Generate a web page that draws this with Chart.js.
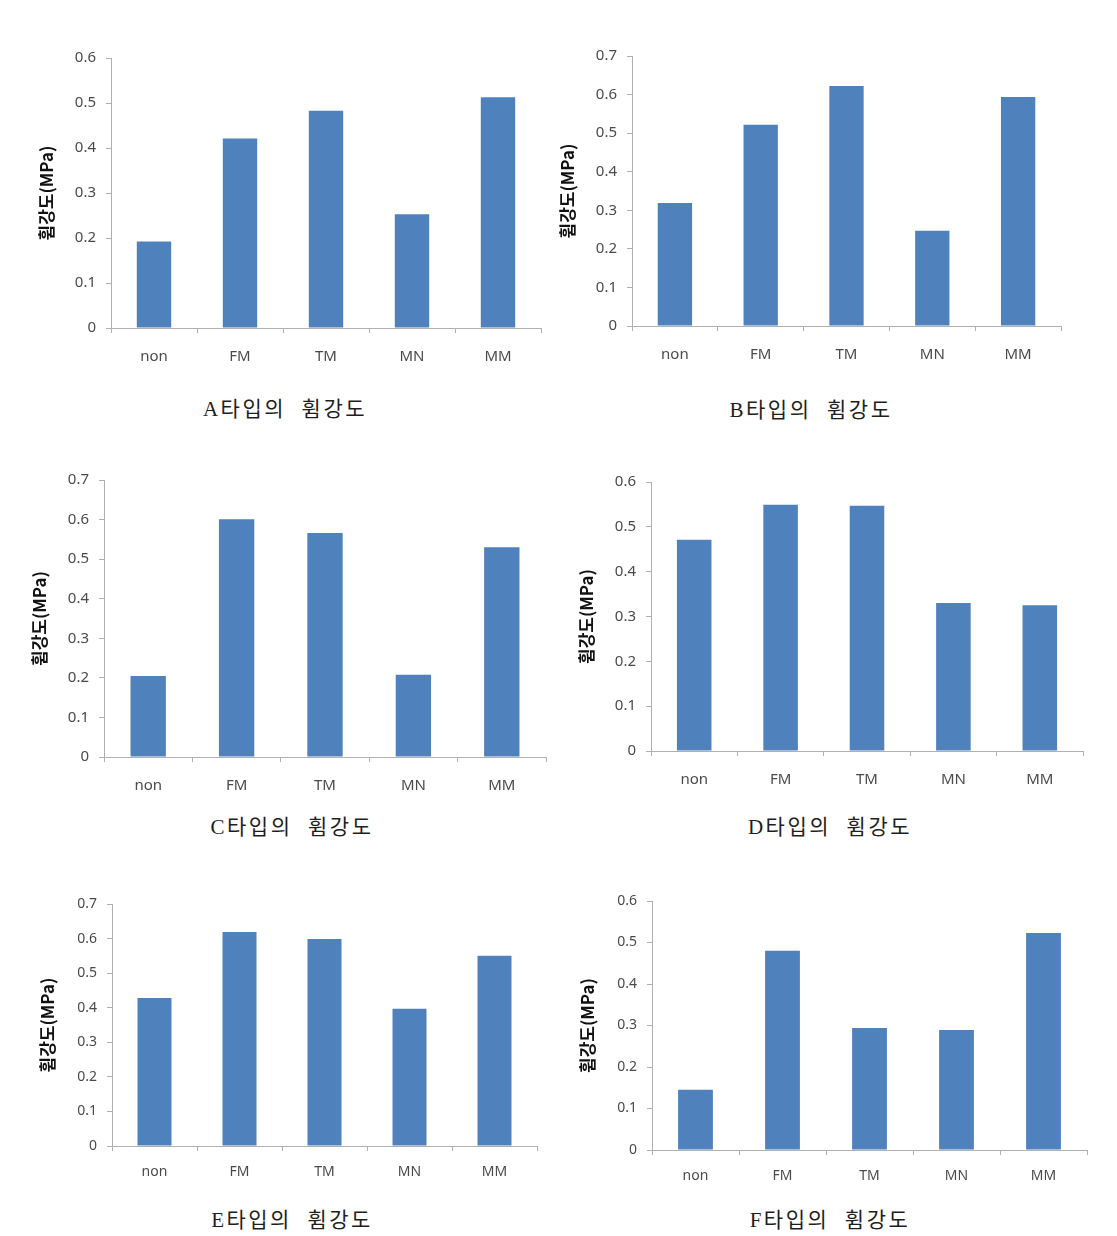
<!DOCTYPE html>
<html>
<head>
<meta charset="utf-8">
<script src="https://cdn.jsdelivr.net/npm/chart.js@4.4.1/dist/chart.umd.min.js"></script>
<style>
  html, body { margin: 0; padding: 0; background: #ffffff; }
  body { width: 1117px; height: 1236px; position: relative; overflow: hidden; }
  .box { position: absolute; }
  .cap { position: absolute; transform: translate(-50%, -50%); white-space: pre;
         font-family: "Liberation Serif", "Noto Sans CJK KR", sans-serif; font-size: 21px;
         letter-spacing: 2.5px; color: #1e1e1e; font-weight: 400; }
</style>
</head>
<body>
<script>
// ---- data ----
const categories = ['non', 'FM', 'TM', 'MN', 'MM'];
const valuesA = [0.192, 0.421, 0.483, 0.253, 0.513];
const valuesB = [0.319, 0.522, 0.622, 0.247, 0.594];
const valuesC = [0.205, 0.601, 0.566, 0.208, 0.530];
const valuesD = [0.471, 0.549, 0.547, 0.330, 0.325];
const valuesE = [0.428, 0.619, 0.599, 0.397, 0.550];
const valuesF = [0.145, 0.480, 0.294, 0.289, 0.523];
const yMaxes = [0.6, 0.7, 0.7, 0.6, 0.7, 0.6];
const yTitle = '휨강도(MPa)';
const captions = ['A타입의  휨강도', 'B타입의  휨강도', 'C타입의  휨강도', 'D타입의  휨강도', 'E타입의  휨강도', 'F타입의  휨강도'];

// ---- layout (plot rectangles and caption centres, in page pixels) ----
const plots = [
  { l: 111, r: 541,  t: 58,  b: 328,  capX: 285, capY: 407 },
  { l: 632, r: 1061, t: 56,  b: 326,  capX: 811, capY: 408 },
  { l: 104, r: 546,  t: 480, b: 757,  capX: 292, capY: 825 },
  { l: 651, r: 1083, t: 482, b: 751,  capX: 830, capY: 825 },
  { l: 112, r: 537,  t: 904, b: 1146, capX: 292, capY: 1218 },
  { l: 652, r: 1087, t: 901, b: 1150, capX: 830, capY: 1218 }
];
const allValues = [valuesA, valuesB, valuesC, valuesD, valuesE, valuesF];

const AXIS = '#b0b0b0';
const TICK = '#4a4a4a';
const BAR = '#4f81bd';
const LEFTW = 75, TOPP = 20, RIGHTP = 10, BOTH = 50;

plots.forEach((p, i) => {
  const w = (p.r - p.l) + LEFTW + RIGHTP;
  const h = (p.b - p.t) + TOPP + BOTH;
  const div = document.createElement('div');
  div.className = 'box';
  div.style.left = (p.l - LEFTW) + 'px';
  div.style.top = (p.t - TOPP) + 'px';
  div.style.width = w + 'px';
  div.style.height = h + 'px';
  const cv = document.createElement('canvas');
  div.appendChild(cv);
  document.body.appendChild(div);

  const cap = document.createElement('div');
  cap.className = 'cap';
  cap.style.left = p.capX + 'px';
  cap.style.top = p.capY + 'px';
  cap.textContent = captions[i];
  document.body.appendChild(cap);

  const fs = (i >= 4) ? 14 : 15;
  new Chart(cv, {
    type: 'bar',
    data: {
      labels: categories,
      datasets: [{ data: allValues[i], backgroundColor: BAR, borderWidth: 0,
                   barPercentage: 0.4, categoryPercentage: 1.0 }]
    },
    options: {
      responsive: true,
      maintainAspectRatio: false,
      animation: false,
      devicePixelRatio: 1,
      layout: { padding: { left: 0, top: TOPP, right: RIGHTP, bottom: 0 } },
      plugins: { legend: { display: false }, tooltip: { enabled: false } },
      scales: {
        x: {
          grid: { display: true, drawOnChartArea: false, color: AXIS, tickLength: 5, offset: true },
          border: { display: true, color: AXIS, width: 1 },
          ticks: { color: TICK, font: { family: 'Noto Sans, sans-serif', size: fs }, padding: (i >= 4 ? 13 : 15), maxRotation: 0 },
          afterFit: s => { s.height = BOTH; }
        },
        y: {
          min: 0, max: yMaxes[i],
          grid: { display: true, drawOnChartArea: false, color: AXIS, tickLength: 5 },
          border: { display: true, color: AXIS, width: 1 },
          ticks: { stepSize: 0.1, color: TICK, font: { family: 'Noto Sans, sans-serif', size: fs }, padding: 10,
                   callback: v => (Math.abs(v) < 1e-9 ? '0' : Number(v).toFixed(1)) },
          title: { display: true, text: yTitle, color: '#111111',
                   font: { family: 'Noto Sans CJK KR, sans-serif', size: 17, weight: 'bold' },
                   padding: { top: 0, bottom: 0 } },
          afterFit: s => { s.width = LEFTW; }
        }
      }
    }
  });
});
</script>
</body>
</html>
